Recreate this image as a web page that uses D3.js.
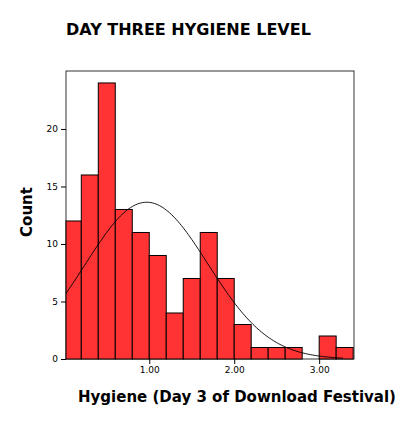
<!DOCTYPE html>
<html><head><meta charset="utf-8">
<script src="https://cdn.jsdelivr.net/npm/d3@7"></script>
<style>body{margin:0;background:#fff;font-family:"DejaVu Sans",sans-serif}</style>
</head><body>
<script>
// bin edges (lower) and counts
var binStarts = [0.0,0.2,0.4,0.6,0.8,1.0,1.2,1.4,1.6,1.8,2.0,2.2,2.4,2.6,2.8,3.0,3.2];
var counts    = [12,16,24,13,11,9,4,7,11,7,3,1,1,1,0,2,1];
var xTicks = [1, 2, 3];
var yTicks = [0, 5, 10, 15, 20];
var binWidth = 0.2, mean = 0.97, sd = 0.72;
var n = d3.sum(counts);

var svg = d3.select("body").append("svg").attr("width", 402).attr("height", 426);
var pLeft = 66, pRight = 354, pTop = 71, pBottom = 359;
var x = d3.scaleLinear().domain([0.02, 3.41]).range([pLeft, pRight]);
var y = d3.scaleLinear().domain([0, 25.04]).range([pBottom, pTop]);

svg.append("text").attr("x", 66).attr("y", 35).attr("font-size", 16).attr("font-weight", "bold")
  .text("DAY THREE HYGIENE LEVEL");

svg.append("rect").attr("x", pLeft).attr("y", pTop).attr("width", pRight - pLeft).attr("height", pBottom - pTop)
  .attr("fill", "none").attr("stroke", "#000").attr("stroke-width", 0.8);

svg.selectAll("rect.bar").data(counts.map(function(c, i) { return {x0: binStarts[i], c: c}; }).filter(function(d){return d.c>0;}))
  .enter().append("rect").attr("class", "bar")
  .attr("x", function(d) { return x(Math.max(d.x0, 0.02)); })
  .attr("width", function(d) { return x(d.x0 + binWidth) - x(Math.max(d.x0, 0.02)); })
  .attr("y", function(d) { return y(d.c); })
  .attr("height", function(d) { return y(0) - y(d.c); })
  .attr("fill", "#ff3333").attr("stroke", "#000").attr("stroke-width", 1);

// fitted normal curve
var pts = d3.range(0.02, 3.3, 0.02).map(function(v) {
  var z = (v - mean) / sd;
  return [v, n * binWidth * Math.exp(-0.5 * z * z) / (sd * Math.sqrt(2 * Math.PI))];
});
svg.append("path").datum(pts)
  .attr("d", d3.line().x(function(d) { return x(d[0]); }).y(function(d) { return y(d[1]); }))
  .attr("fill", "none").attr("stroke", "#000").attr("stroke-width", 0.9);

svg.append("g").attr("transform", "translate(" + pLeft + ",0)")
  .call(d3.axisLeft(y).tickValues(yTicks).tickSize(5).tickSizeOuter(0))
  .call(function(g) { g.select(".domain").remove(); g.selectAll("text").attr("font-size", 9).attr("font-family", "DejaVu Sans"); });
svg.append("g").attr("transform", "translate(0," + pBottom + ")")
  .call(d3.axisBottom(x).tickValues(xTicks).tickFormat(d3.format(".2f")).tickSize(5).tickSizeOuter(0))
  .call(function(g) { g.select(".domain").remove(); g.selectAll("text").attr("font-size", 9).attr("font-family", "DejaVu Sans"); });

svg.append("text").attr("transform", "translate(32,212) rotate(-90)").attr("text-anchor", "middle")
  .attr("font-size", 15).attr("font-weight", "bold").text("Count");
svg.append("text").attr("x", 237).attr("y", 402).attr("text-anchor", "middle")
  .attr("font-size", 15).attr("font-weight", "bold").text("Hygiene (Day 3 of Download Festival)");
</script>
</body></html>
